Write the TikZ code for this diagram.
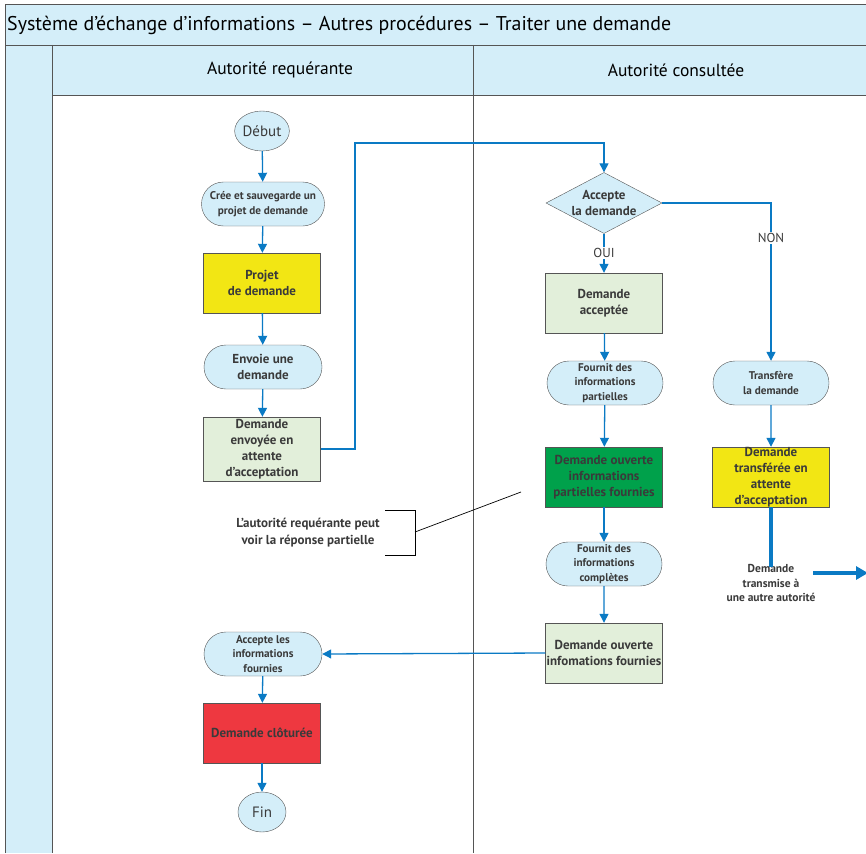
\documentclass[tikz,border=0pt]{standalone}
\usepackage{fontspec}
\setmainfont{PT Sans}
\usepackage{tikz}
\usepackage{xcolor}
\usetikzlibrary{shapes.misc,shapes.geometric,arrows.meta}

\definecolor{paleblue}{HTML}{D4EEF9}
\definecolor{flowblue}{HTML}{0A7AC4}
\definecolor{boxyellow}{HTML}{F2E614}
\definecolor{palegreen}{HTML}{E2EFDA}
\definecolor{boxgreen}{HTML}{00A14B}
\definecolor{boxred}{HTML}{EE3840}
\definecolor{ink}{HTML}{3A3A3A}
\definecolor{rule}{HTML}{555555}

\newcommand{\bigtxt}{\fontsize{13}{16}\selectfont\bfseries}
\newcommand{\smalltxt}{\fontsize{11.2}{14.5}\selectfont\bfseries}

\begin{document}
\begin{tikzpicture}[x=1pt,y=-1pt,
  every node/.style={text=ink},
  terminal/.style={ellipse,draw=rule,fill=paleblue,minimum width=48pt,minimum height=40pt,inner sep=0pt,font=\fontsize{15}{17}\selectfont},
  action/.style={rounded rectangle,draw=rule,fill=paleblue,minimum width=118pt,minimum height=44pt,inner sep=0pt,align=center},
  state/.style={rectangle,draw=rule,minimum width=117pt,minimum height=60pt,inner sep=0pt,align=center,font=\bigtxt},
  choice/.style={diamond,draw=rule,fill=paleblue,minimum width=116pt,minimum height=61pt,inner sep=0pt},
  flow/.style={draw=flowblue,line width=1.3pt,-{Triangle[length=9pt,width=9pt]}},
  label/.style={fill=white,inner sep=1.5pt,font=\fontsize{13}{15}\selectfont}]
\useasboundingbox (0,0) rectangle (866,853);

% Frame, title and lanes
\fill[paleblue] (5,5) rectangle (866,45);
\fill[paleblue] (5,45) rectangle (52,853);
\fill[paleblue] (52,45) rectangle (866,95);
\draw[rule, line width=1pt] (5,853) -- (5,5) -- (866,5);
\draw[rule, line width=0.8pt] (5,45) -- (866,45);
\draw[rule, line width=0.8pt] (52,95) -- (866,95);
\draw[rule, line width=0.8pt] (52,45) -- (52,853);
\draw[rule, line width=0.8pt] (473,45) -- (473,853);
\node[anchor=west,inner sep=0pt,text=black] (title) at (7,25) {\fontsize{19.9}{22}\selectfont Système d’échange d’informations – Autres procédures – Traiter une demande};
\node[text=black] (laneA) at (280,70) {\fontsize{17.5}{19}\selectfont Autorité requérante};
\node[text=black] (laneB) at (676,70) {\fontsize{17.5}{19}\selectfont Autorité consultée};

% Autorite requerante
\node[terminal] (debut) at (262,131) {Début};
\node[action,minimum width=123pt,font=\smalltxt] (cree) at (263,204) {Crée et sauvegarde un\\projet de demande};
\node[state,fill=boxyellow] (projet) at (262,283) {Projet\\de demande};
\node[action,font=\bigtxt] (envoie) at (263,367) {Envoie une\\demande};
\node[state,fill=palegreen,minimum height=64pt] (envoyee) at (262,449) {Demande\\envoyée en\\attente\\d’acceptation};
\node[action,font=\smalltxt] (acceptinfo) at (263,654) {Accepte les\\informations\\fournies};
\node[state,fill=boxred] (cloturee) at (262,733) {Demande clôturée};
\node[terminal] (fin) at (262,812) {Fin};

% Autorite consultee
\node[choice] (accepte) at (604,203) {};
\node[align=center,font=\bigtxt] (acceptetxt) at (accepte) {Accepte\\la demande};
\node[state,fill=palegreen] (acceptee) at (604,303) {Demande\\acceptée};
\node[action,minimum width=116pt,font=\smalltxt] (partielles) at (605,383) {Fournit des\\informations\\partielles};
\node[state,fill=boxgreen] (ouverte) at (604,477) {Demande ouverte\\informations\\partielles fournies};
\node[action,minimum width=116pt,font=\smalltxt] (completes) at (604,564) {Fournit des\\informations\\complètes};
\node[state,fill=palegreen] (fournies) at (604,653) {Demande ouverte\\infomations fournies};
\node[action,minimum width=116pt,font=\smalltxt] (transfere) at (771,383) {Transfère\\la demande};
\node[state,fill=boxyellow] (transferee) at (771,477) {Demande\\transférée en\\attente\\d’acceptation};
\node[align=center,font=\fontsize{11.5}{14.5}\selectfont\bfseries,inner sep=0pt] (transmise) at (771,583) {Demande\\transmise à\\une autre autorité};

% Note
\node[align=center,font=\fontsize{13}{17}\selectfont\bfseries] (note) at (308,533) {L’autorité requérante peut\\voir la réponse partielle};
\coordinate (brtop) at (385,510);
\coordinate (brbot) at (385,555);
\coordinate (brmid) at (415,532);
\coordinate (pointer) at (521,492);
\draw[black, line width=0.7pt] (brtop) -- (415,510) -- (415,555) -- (brbot);
\draw[black, line width=0.7pt] (brmid) -- (pointer);

% Connectors
\draw[flow] (debut) -- (cree);
\draw[flow] (cree) -- (projet);
\draw[flow] (projet) -- (envoie);
\draw[flow] (envoie) -- (envoyee);
\coordinate (hop) at (355,143);
\draw[flow] (envoyee.east) -| (hop) -| (accepte.north);
\draw[flow] (accepte.south) -- node[label] {OUI} (acceptee);
\draw[flow] (accepte.east) -| node[label,pos=0.61] {NON} (transfere.north);
\draw[flow] (acceptee) -- (partielles);
\draw[flow] (partielles) -- (ouverte);
\draw[flow] (ouverte) -- (completes);
\draw[flow] (completes) -- (fournies);
\draw[flow] (fournies.west) -- (acceptinfo.east);
\draw[flow] (acceptinfo) -- (cloturee);
\draw[flow] (cloturee) -- (fin);
\draw[flow] (transfere) -- (transferee);
\draw[draw=flowblue,line width=4pt] (transferee.south) -- ([yshift=-3pt]transmise.north);
\coordinate (outstart) at (813,573);
\coordinate (outend) at (868,573);
\draw[draw=flowblue,line width=4pt,-{Triangle[length=12pt,width=13pt]}] (outstart) -- (outend);
\end{tikzpicture}
\end{document}
